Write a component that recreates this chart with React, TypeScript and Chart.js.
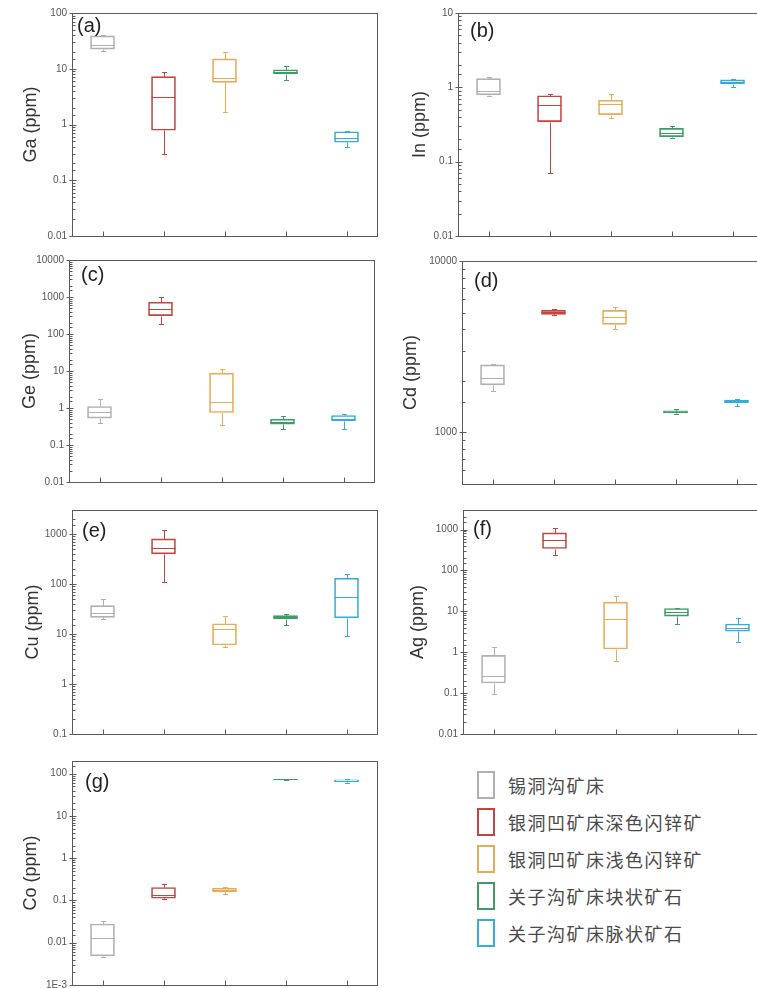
import React, { useEffect, useRef } from 'react';
import { Chart, registerables } from 'chart.js';

Chart.register(...registerables);

const groups = ['锡洞沟矿床', '银洞凹矿床深色闪锌矿', '银洞凹矿床浅色闪锌矿', '关子沟矿床块状矿石', '关子沟矿床脉状矿石'];
const groupColors = ['#b0b0b0', '#c4453e', '#e8ab58', '#3f9b68', '#38acd9'];

// each entry: [min, q1, median, q3, max]
const gaStats = [[21, 22.5, 27, 39, 40], [0.3, 0.79, 3.1, 7.2, 8.6], [1.7, 5.7, 6.8, 15, 20], [6.3, 8.1, 8.8, 9.6, 11], [0.4, 0.48, 0.58, 0.74, 0.77]];
const inStats = [[0.77, 0.79, 0.9, 1.31, 1.37], [0.071, 0.345, 0.58, 0.77, 0.82], [0.39, 0.43, 0.6, 0.67, 0.82], [0.208, 0.217, 0.24, 0.28, 0.305], [1.0, 1.11, 1.18, 1.26, 1.3]];
const geStats = [[0.39, 0.533, 0.757, 1.1, 1.74], [187, 314, 475, 721, 1023], [0.352, 0.757, 1.44, 8.75, 11.2], [0.269, 0.367, 0.425, 0.5, 0.59], [0.27, 0.452, 0.5, 0.628, 0.68]];
const cdStats = [[1745, 1894, 2069, 2476, 2520], [4816, 4880, 5012, 5147, 5215], [4010, 4266, 4689, 5147, 5357], [1279, 1297, 1317, 1337, 1367], [1430, 1489, 1515, 1543, 1560]];
const cuStats = [[20, 21.5, 25.9, 36.9, 50.9], [111, 398, 517, 794, 1183], [5.5, 6, 12.5, 16, 23], [14.9, 20, 21.5, 23.3, 24.5], [9, 20.9, 54, 130, 161]];
const agStats = [[0.093, 0.177, 0.267, 0.84, 1.37], [235, 343, 558, 828, 1120], [0.62, 1.2, 6.6, 16.7, 24.3], [5.0, 7.6, 9.86, 11.7, 11.8], [1.78, 3.25, 4.0, 4.9, 6.9]];
const coStats = [[0.0045, 0.0049, 0.0132, 0.0278, 0.0333], [0.109, 0.113, 0.136, 0.203, 0.252], [0.141, 0.16, 0.179, 0.195, 0.21], [72, 72.5, 73.2, 74, 74.5], [61, 65, 69, 72, 73.5]];

const gaTicks = ['0.01', '0.1', '1', '10', '100'];
const inTicks = ['0.01', '0.1', '1', '10'];
const geTicks = ['0.01', '0.1', '1', '10', '100', '1000', '10000'];
const cdTicks = ['1000', '10000'];
const cuTicks = ['0.1', '1', '10', '100', '1000'];
const agTicks = ['0.01', '0.1', '1', '10', '100', '1000'];
const coTicks = ['1E-3', '0.01', '0.1', '1', '10', '100'];

type PanelCfg = {
  letter: string; title: string; stats: number[][]; ticks: string[]; min: number; max: number;
  col: number; L: number; T: number; B: number; W: number; ldx: number; ldy: number; titleX: number;
};

const panels: PanelCfg[] = [
  { letter: '(a)', title: 'Ga (ppm)', stats: gaStats, ticks: gaTicks, min: 0.01, max: 100, col: 0, L: 72, T: 13, B: 236, W: 305, ldx: 5, ldy: 13, titleX: 31.5 },
  { letter: '(b)', title: 'In (ppm)', stats: inStats, ticks: inTicks, min: 0.01, max: 10, col: 1, L: 458, T: 13, B: 236, W: 305, ldx: 12, ldy: 18, titleX: 420 },
  { letter: '(c)', title: 'Ge (ppm)', stats: geStats, ticks: geTicks, min: 0.01, max: 10000, col: 0, L: 69, T: 260, B: 482, W: 305, ldx: 12, ldy: 15, titleX: 30 },
  { letter: '(d)', title: 'Cd (ppm)', stats: cdStats, ticks: cdTicks, min: 500, max: 10000, col: 1, L: 462, T: 261, B: 484, W: 305, ldx: 12, ldy: 20, titleX: 411.5 },
  { letter: '(e)', title: 'Cu (ppm)', stats: cuStats, ticks: cuTicks, min: 0.1, max: 3000, col: 0, L: 72, T: 510, B: 734, W: 305, ldx: 10, ldy: 21, titleX: 33 },
  { letter: '(f)', title: 'Ag (ppm)', stats: agStats, ticks: agTicks, min: 0.01, max: 3000, col: 1, L: 463, T: 510, B: 734, W: 305, ldx: 10, ldy: 19, titleX: 418 },
  { letter: '(g)', title: 'Co (ppm)', stats: coStats, ticks: coTicks, min: 0.001, max: 200, col: 0, L: 72, T: 761, B: 985, W: 305, ldx: 13, ldy: 21, titleX: 31.5 },
];

const FONT = '"Liberation Sans", Arial, sans-serif';
const PAD_T = 14;
const PAD_B = 14;
const PAD_R = 6;

function isPow10(v: number) {
  const l = Math.log10(v);
  return Math.abs(l - Math.round(l)) < 1e-7;
}

function geom(p: PanelCfg) {
  const colLeft = p.col === 0 ? 0 : 385;
  const top = p.T - PAD_T;
  const w = p.L - colLeft + p.W + PAD_R;
  const h = p.B - p.T + PAD_T + PAD_B;
  return { colLeft, top, w, h, yw: p.L - colLeft };
}

function PanelChart({ p }: { p: PanelCfg }) {
  const ref = useRef<HTMLCanvasElement | null>(null);
  const g = geom(p);
  useEffect(() => {
    if (!ref.current) return;
    const extras = {
      id: 'boxExtras',
      afterDatasetsDraw(chart: any) {
        const ctx = chart.ctx;
        const ys = chart.scales.y;
        const meta = chart.getDatasetMeta(0);
        const py = (v: number) => Math.round(ys.getPixelForValue(v)) + 0.5;
        ctx.save();
        ctx.lineWidth = 1;
        p.stats.forEach((s, i) => {
          const bar = meta.data[i];
          const cx = Math.round(bar.x) + 0.5;
          const half = bar.width / 2;
          ctx.strokeStyle = groupColors[i];
          ctx.beginPath();
          ctx.moveTo(cx, py(s[3])); ctx.lineTo(cx, py(s[4]));
          ctx.moveTo(cx, py(s[1])); ctx.lineTo(cx, py(s[0]));
          ctx.moveTo(cx - 2.5, py(s[4])); ctx.lineTo(cx + 2.5, py(s[4]));
          ctx.moveTo(cx - 2.5, py(s[0])); ctx.lineTo(cx + 2.5, py(s[0]));
          ctx.moveTo(bar.x - half, py(s[2])); ctx.lineTo(bar.x + half, py(s[2]));
          ctx.stroke();
        });
        ctx.restore();
      },
      afterDraw(chart: any) {
        const ctx = chart.ctx;
        const ca = chart.chartArea;
        const ys = chart.scales.y;
        const xs = chart.scales.x;
        const l = Math.round(ca.left) + 0.5;
        const t = Math.round(ca.top) + 0.5;
        const r = Math.round(ca.right) + 0.5;
        const b = Math.round(ca.bottom) + 0.5;
        ctx.save();
        ctx.strokeStyle = '#5a5a5a';
        ctx.lineWidth = 1;
        ctx.strokeRect(l, t, r - l, b - t);
        ctx.beginPath();
        ys.ticks.forEach((tk: any) => {
          const yy = Math.round(ys.getPixelForValue(tk.value)) + 0.5;
          if (isPow10(tk.value)) {
            ctx.moveTo(l - 3, yy); ctx.lineTo(l + 4, yy);
          } else {
            ctx.moveTo(l, yy); ctx.lineTo(l + 3, yy);
          }
        });
        for (let i = 0; i < groups.length; i++) {
          const xx = Math.round(xs.getPixelForValue(i)) + 0.5;
          ctx.moveTo(xx, b); ctx.lineTo(xx, b - 5);
        }
        ctx.stroke();
        ctx.fillStyle = '#222';
        ctx.font = '20px ' + FONT;
        ctx.textAlign = 'left';
        ctx.textBaseline = 'middle';
        ctx.fillText(p.letter, ca.left + p.ldx, ca.top + p.ldy);
        ctx.translate(p.titleX - g.colLeft, (ca.top + ca.bottom) / 2);
        ctx.rotate(-Math.PI / 2);
        ctx.fillStyle = '#333';
        ctx.font = '18px ' + FONT;
        ctx.textAlign = 'center';
        ctx.fillText(p.title, 0, 0);
        ctx.restore();
      },
    };
    const chart = new Chart(ref.current, {
      type: 'bar',
      data: {
        labels: groups,
        datasets: [{
          data: p.stats.map((s) => [s[1], s[3]]),
          backgroundColor: 'rgba(255,255,255,0)',
          borderColor: groupColors,
          borderWidth: 1,
          borderSkipped: false,
          barThickness: 24,
        }],
      },
      options: {
        responsive: false,
        animation: false,
        layout: { padding: { left: 0, right: PAD_R, top: PAD_T, bottom: PAD_B } },
        plugins: { legend: { display: false }, tooltip: { enabled: false } },
        scales: {
          x: { type: 'category', display: false, offset: true },
          y: {
            type: 'logarithmic',
            min: p.min,
            max: p.max,
            afterFit: (scale: any) => { scale.width = g.yw; },
            grid: { display: false, drawTicks: false },
            border: { display: false },
            ticks: {
              autoSkip: false,
              padding: 5,
              color: '#555',
              font: { size: 10, family: FONT },
              callback: (v: any) => {
                const val = Number(v);
                if (!isPow10(val)) return '';
                const lab = p.ticks.find((s) => Math.abs(parseFloat(s) - val) < val * 1e-6);
                return lab ?? '';
              },
            },
          },
        },
      },
      plugins: [extras as any],
    } as any);
    return () => chart.destroy();
  }, []);
  return (
    <canvas
      ref={ref}
      width={g.w}
      height={g.h}
      style={{ position: 'absolute', left: g.colLeft, top: g.top, width: g.w, height: g.h, display: 'block' }}
    />
  );
}

export default function App() {
  return (
    <div style={{ position: 'fixed', left: 0, top: 0, width: 757, height: 988, overflow: 'hidden', background: '#fff' }}>
      {panels.map((p, i) => <PanelChart key={i} p={p} />)}
      {groups.map((name, i) => (
        <div key={name} style={{ position: 'absolute', left: 477, top: 771 + i * 37, height: 27, display: 'flex', alignItems: 'center' }}>
          <div style={{ width: 14, height: 24, border: '2px solid ' + groupColors[i], boxSizing: 'content-box' }} />
          <div style={{ marginLeft: 13, font: '18px "Noto Sans CJK SC", sans-serif', letterSpacing: 1.5, color: '#4a4a4a', whiteSpace: 'nowrap' }}>{name}</div>
        </div>
      ))}
    </div>
  );
}
